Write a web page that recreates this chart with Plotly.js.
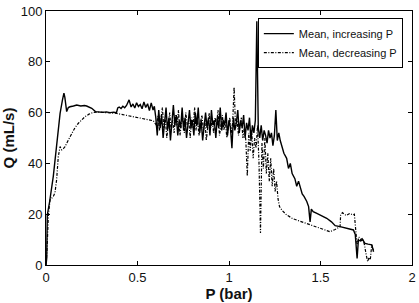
<!DOCTYPE html>
<html><head><meta charset="utf-8">
<script src="https://cdn.plot.ly/plotly-3.0.1.min.js"></script>
<style>html,body{margin:0;padding:0;background:#fff}#chart{width:419px;height:303px}</style>
</head><body><div id="chart"></div>
<script>
// Mean, increasing P (solid)
const incX = [0,0.004,0.007,0.02,0.04,0.058,0.077,0.09,0.098,0.103,0.109,0.113,0.122,0.131,0.15,0.168,0.19,0.21,0.222,0.235,0.25,0.27,0.29,0.31,0.33,0.35,0.37,0.385,0.392,0.40,0.41,0.42,0.43,0.44,0.454,0.465,0.475,0.485,0.495,0.505,0.515,0.525,0.535,0.545,0.555,0.565,0.575,0.585,0.592,
0.600,0.608,0.616,0.624,0.632,0.640,0.648,0.656,0.664,0.672,0.680,0.688,0.696,0.704,0.712,0.720,0.728,0.736,0.744,0.752,0.760,0.768,0.776,0.784,0.792,0.800,0.808,0.816,0.824,0.832,0.840,0.848,0.856,0.864,0.872,0.880,0.888,0.896,0.904,0.912,0.920,0.928,0.936,0.944,0.952,0.960,0.968,0.976,0.984,0.992,1.000,1.008,1.016,1.024,1.032,1.040,1.048,1.056,1.064,1.072,1.080,1.088,1.096,1.104,1.112,1.120,1.128,1.136,1.144,1.152,1.160,1.168,1.176,1.184,1.192,1.200,1.208,1.216,1.224,1.232,1.240,1.248,1.256,1.264,1.272,1.280,
1.29,1.30,1.315,1.325,1.335,1.345,1.36,1.37,1.38,1.39,1.40,1.41,1.425,1.435,1.443,1.45,1.46,1.48,1.50,1.534,1.56,1.58,1.607,1.63,1.66,1.68,1.69,1.70,1.707,1.72,1.73,1.743,1.76,1.78,1.79];
const incY = [0,2.7,19.7,25,35,46.6,59.7,65,67.7,66,61.7,60.4,62,62.3,62.6,63,62.6,62.8,62.6,62.3,61.7,60.4,60.2,60.1,60.3,60.0,60.2,60.0,61.8,62.2,61.6,62.5,61.9,62.8,65,62.2,63.4,61.8,63.9,62.4,63.2,61.5,64.2,62,63.5,60.8,63.8,61,62.5,
58,51,61,54,59,50,57,62,53,58,49,56,63,55,59,51,57,54,62,53,58,50,56,61,54,57,51,60,55,62,52,57,49,56,60,54,58,51,61,55,57,50,58,54,62,53,57,55,60,51,57,54,46,58,53,56,61,52,57,54,59,50,56,53,58,49,55,52,57,96,54,50,55,49,53,51,48,53,50,52,47,51,61,49,52,49,
46,44,42,38,40,36,34,31,33,30,28,27,25,23,17,22,21,20.3,19.6,18.4,17,15.5,15.1,14.6,14,13.8,12,2.6,9.8,9.5,10,8.5,8.2,7.9,5.2];

// Mean, decreasing P (dash-dot)
const decX = [0,0.005,0.013,0.022,0.04,0.049,0.058,0.067,0.077,0.086,0.095,0.104,0.122,0.14,0.158,0.177,0.195,0.213,0.235,0.259,0.29,0.33,0.36,0.386,0.42,0.45,0.477,0.51,0.55,0.586,
0.604,0.612,0.620,0.628,0.636,0.644,0.652,0.660,0.668,0.676,0.684,0.692,0.700,0.708,0.716,0.724,0.732,0.740,0.748,0.756,0.764,0.772,0.780,0.788,0.796,0.804,0.812,0.820,0.828,0.836,0.844,0.852,0.860,0.868,0.876,0.884,0.892,0.900,0.908,0.916,0.924,0.932,0.940,0.948,0.956,0.964,0.972,0.980,0.988,0.996,1.004,1.012,1.020,1.028,1.036,1.044,1.052,1.060,1.068,1.076,1.084,1.092,1.100,1.108,1.116,1.124,1.132,1.140,1.148,1.156,1.164,1.172,1.180,1.188,1.196,1.204,1.212,1.220,1.228,1.236,1.244,1.252,1.260,1.268,1.276,
1.29,1.315,1.35,1.40,1.443,1.50,1.552,1.58,1.607,1.61,1.62,1.64,1.66,1.678,1.685,1.694,1.70,1.71,1.72,1.73,1.74,1.75,1.758,1.765,1.772,1.78,1.79];
const decY = [0,5,19.7,25.6,27,28.5,33.5,42.6,46.6,45.3,45.8,46.6,49.2,51.8,54,55.8,57.3,58.4,59.4,60.1,60.2,60.1,60,59.7,59.2,58.8,58.4,57.9,57.3,56.8,
55,59,53,57,62,54,58,50,56,60,53,57,52,59,55,61,51,56,58,52,60,55,57,50,58,54,62,53,57,51,56,59,53,57,49,55,60,54,57,52,58,55,61,51,56,59,53,57,50,55,58,52,56,70,54,57,51,55,58,50,54,49,35,52,45,53,42,50,46,55,40,12.6,48,38,50,36,44,33,42,31,38,29,33,26,23,
21.5,19.7,18.2,17,15.7,14.3,13.1,14,15.1,19.7,20.6,19.5,20.3,19.7,20,12.6,8,11,10,10.5,8,3.9,1.3,3,2,7.9,6];

const xTicks = [0, 0.5, 1, 1.5, 2];
const xTickText = ['0', '0.5', '1', '1.5', '2'];
const yTicks = [0, 20, 40, 60, 80, 100];
const seriesNames = ['Mean, increasing P', 'Mean, decreasing P'];

const traces = [
  {x: incX, y: incY, name: seriesNames[0], mode: 'lines', line: {color: '#000', width: 1.4}},
  {x: decX, y: decY, name: seriesNames[1], mode: 'lines', line: {color: '#000', width: 1.2, dash: '3px,1.5px,1px,1.5px'}}
];

const axisCommon = {showline: true, linecolor: '#000', linewidth: 1, mirror: 'ticks', ticks: 'inside', ticklen: 4, tickcolor: '#000', showgrid: false, zeroline: false, tickfont: {size: 13, color: '#111'}};

const layout = {
  width: 419, height: 303,
  margin: {l: 46, r: 7, t: 11, b: 38},
  paper_bgcolor: '#fff', plot_bgcolor: '#fff',
  font: {family: 'Liberation Sans, Arial, sans-serif', color: '#111'},
  showlegend: true,
  legend: {x: 0.975, y: 0.972, xanchor: 'right', yanchor: 'top', bgcolor: '#fff', bordercolor: '#000', borderwidth: 1, font: {size: 11}, itemwidth: 30, tracegroupgap: 0},
  xaxis: Object.assign({}, axisCommon, {range: [0, 2], tickvals: xTicks, ticktext: xTickText, title: {text: '<b>P (bar)</b>', font: {size: 15}, standoff: 4}}),
  yaxis: Object.assign({}, axisCommon, {range: [0, 100], tickvals: yTicks, title: {text: '<b>Q (mL/s)</b>', font: {size: 15}, standoff: 2}})
};

Plotly.newPlot('chart', traces, layout, {displayModeBar: false, staticPlot: true});
</script></body></html>
